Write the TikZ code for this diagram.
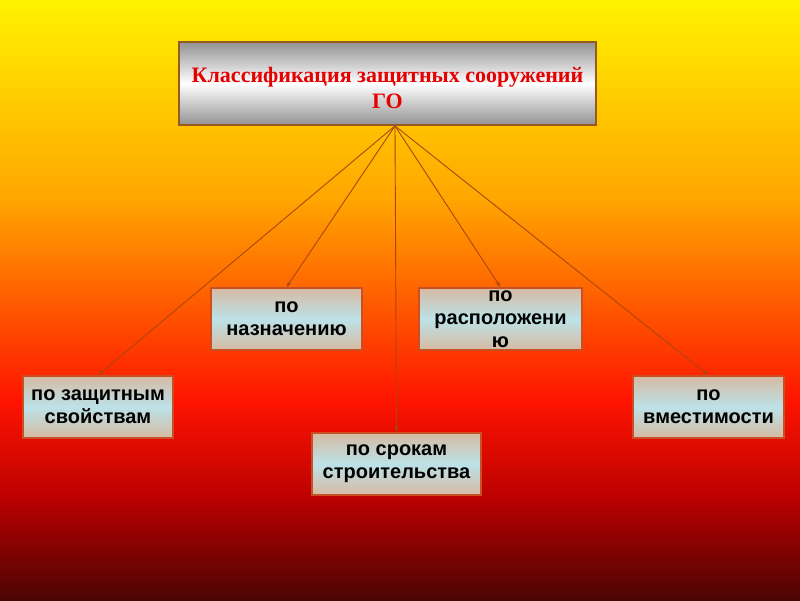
\documentclass[tikz,border=0pt]{standalone}
\usepackage{fontspec}
\setmainfont{Liberation Serif}
\setsansfont{Liberation Sans}
\usetikzlibrary{arrows.meta}
\definecolor{bgA}{RGB}{255,242,0}
\definecolor{bgB}{RGB}{255,165,0}
\definecolor{bgC}{RGB}{255,20,0}
\definecolor{bgD}{RGB}{185,0,0}
\definecolor{bgE}{RGB}{75,4,4}
\definecolor{boxtan}{RGB}{214,186,162}
\definecolor{boxblue}{RGB}{188,226,232}
\definecolor{boxline}{RGB}{200,80,36}
\definecolor{greyline}{RGB}{150,90,30}
\definecolor{titlered}{RGB}{230,0,0}
\definecolor{linkclr}{RGB}{170,70,14}
\begin{document}
\begin{tikzpicture}[x=1pt,y=-1pt,
 box/.style={draw=boxline,line width=1.6pt,top color=boxtan,bottom color=boxtan,middle color=boxblue,
  minimum width=#1,minimum height=62pt,inner sep=0pt,align=center},
 boxtext/.style={align=center,inner sep=0pt,font=\sffamily\bfseries\fontsize{20}{23}\selectfont},
 title/.style={draw=greyline,line width=1.8pt,top color=gray!85,bottom color=gray!85,middle color=white,
  minimum width=417pt,minimum height=83pt,inner sep=0pt},
 titletext/.style={text=titlered,align=center,font=\rmfamily\bfseries\fontsize{22}{26}\selectfont},
 link/.style={draw=linkclr,line width=0.9pt,-{Stealth[length=6pt,width=4pt]}}]
\useasboundingbox (0,0) rectangle (800,600);
% background
\fill[top color=bgA,bottom color=bgB] (0,0) rectangle (800,201);
\fill[top color=bgB,bottom color=bgC] (0,200) rectangle (800,401);
\fill[top color=bgC,bottom color=bgD] (0,400) rectangle (800,501);
\fill[top color=bgD,bottom color=bgE] (0,500) rectangle (800,600);
\node[title] (klass) at (387.5,83.5) {};
\node[titletext] (klasstxt) at ([yshift=-4.5pt]klass.center) {Классификация защитных сооружений\\ГО};
\node[box=151pt,boxtext] (naz) at (286.5,319) {по\\назначению};
\node[box=163pt] (rasp) at (500.5,319) {};
\node[boxtext] (rasptxt) at (rasp.center) {по\\расположени\\ю};
\node[box=150pt,boxtext] (zash) at (98,407) {по защитным\\свойствам};
\node[box=151pt,boxtext] (vmest) at (708.5,407) {по\\вместимости};
\node[box=169pt,boxtext] (srok) at (396.5,464) {по срокам\\строительства};
\coordinate (root) at ([xshift=7.5pt]klass.south);
\foreach \t in {zash,naz,srok,rasp,vmest}
 \draw[link] (root) -- (\t.north);
\end{tikzpicture}
\end{document}
